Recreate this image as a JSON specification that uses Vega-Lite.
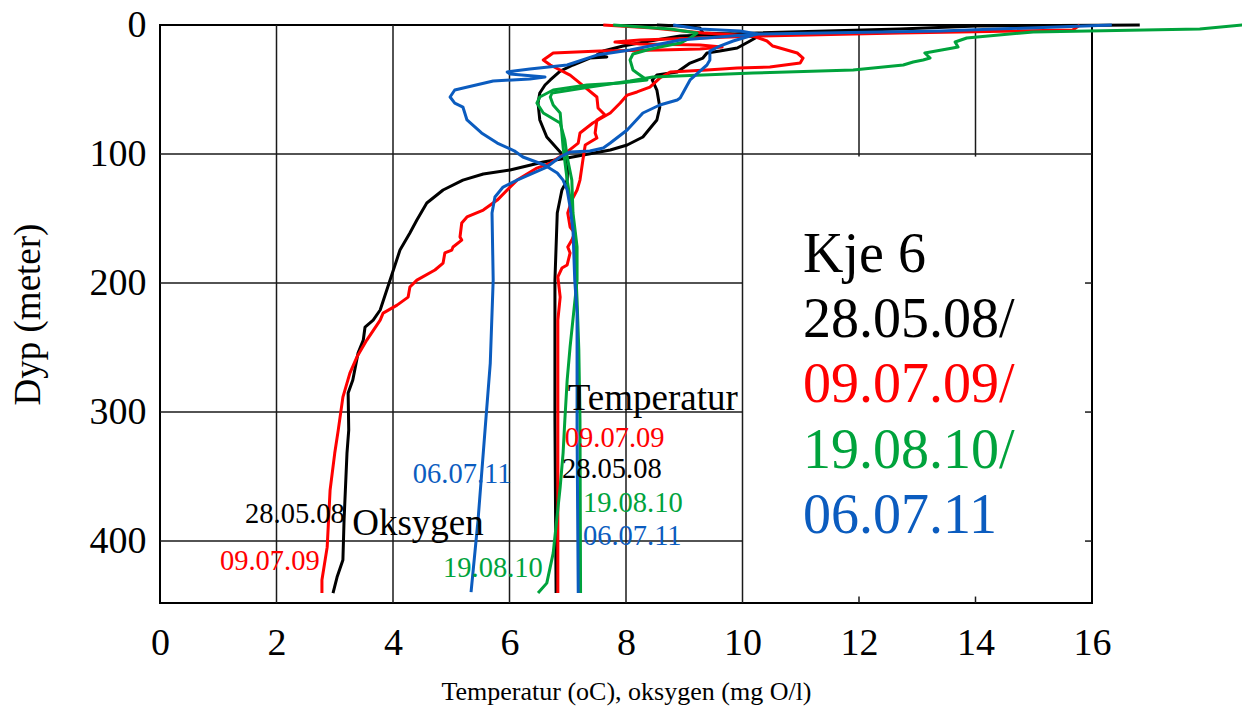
{
  "$schema": "https://vega.github.io/schema/vega-lite/v6.json",
  "width": 932,
  "height": 578,
  "autosize": {"type": "none"},
  "padding": {"left": 160, "top": 25, "right": 150, "bottom": 106},
  "background": "white",
  "config": {
    "view": {"stroke": "#000", "strokeWidth": 2},
    "axis": {"domain": false, "ticks": false, "grid": false, "labelFlush": false, "labelFont": "Liberation Serif", "labelFontSize": 38, "labelColor": "#000", "titleFont": "Liberation Serif", "titleFontWeight": "normal", "titleColor": "#000"}
  },
  "datasets": {
    "grid": [
      {"x": 2, "x2": 2, "d": 0, "d2": 448},
      {"x": 4, "x2": 4, "d": 0, "d2": 448},
      {"x": 6, "x2": 6, "d": 0, "d2": 448},
      {"x": 8, "x2": 8, "d": 0, "d2": 448},
      {"x": 10, "x2": 10, "d": 0, "d2": 448},
      {"x": 12, "x2": 12, "d": 0, "d2": 102},
      {"x": 14, "x2": 14, "d": 0, "d2": 102},
      {"x": 12, "x2": 12, "d": 443, "d2": 448},
      {"x": 14, "x2": 14, "d": 443, "d2": 448},
      {"x": 0, "x2": 16, "d": 100, "d2": 100},
      {"x": 0, "x2": 10, "d": 200, "d2": 200},
      {"x": 0, "x2": 10, "d": 300, "d2": 300},
      {"x": 0, "x2": 10, "d": 400, "d2": 400},
      {"x": 15.88, "x2": 16, "d": 200, "d2": 200},
      {"x": 15.88, "x2": 16, "d": 300, "d2": 300},
      {"x": 15.88, "x2": 16, "d": 400, "d2": 400}
    ],
    "prof": [
      {"date": "28.05.08", "v": "O", "x": 8.53, "d": 0},
      {"date": "28.05.08", "v": "O", "x": 8.93, "d": 0.8},
      {"date": "28.05.08", "v": "O", "x": 9.27, "d": 2.3},
      {"date": "28.05.08", "v": "O", "x": 9.32, "d": 6.2},
      {"date": "28.05.08", "v": "O", "x": 9.79, "d": 7.0},
      {"date": "28.05.08", "v": "O", "x": 10.25, "d": 9.3},
      {"date": "28.05.08", "v": "O", "x": 10.13, "d": 12.4},
      {"date": "28.05.08", "v": "O", "x": 9.91, "d": 17.8},
      {"date": "28.05.08", "v": "O", "x": 9.61, "d": 20.2},
      {"date": "28.05.08", "v": "O", "x": 9.39, "d": 21.7},
      {"date": "28.05.08", "v": "O", "x": 9.32, "d": 25.6},
      {"date": "28.05.08", "v": "O", "x": 9.10, "d": 29.5},
      {"date": "28.05.08", "v": "O", "x": 8.88, "d": 36.4},
      {"date": "28.05.08", "v": "O", "x": 8.53, "d": 38.8},
      {"date": "28.05.08", "v": "O", "x": 8.45, "d": 42.6},
      {"date": "28.05.08", "v": "O", "x": 8.53, "d": 50.4},
      {"date": "28.05.08", "v": "O", "x": 8.58, "d": 63.6},
      {"date": "28.05.08", "v": "O", "x": 8.53, "d": 73.6},
      {"date": "28.05.08", "v": "O", "x": 8.29, "d": 86.8},
      {"date": "28.05.08", "v": "O", "x": 8.02, "d": 93.0},
      {"date": "28.05.08", "v": "O", "x": 7.73, "d": 96.9},
      {"date": "28.05.08", "v": "O", "x": 6.99, "d": 103.1},
      {"date": "28.05.08", "v": "O", "x": 6.58, "d": 106.2},
      {"date": "28.05.08", "v": "O", "x": 6.01, "d": 112.4},
      {"date": "28.05.08", "v": "O", "x": 5.55, "d": 115.5},
      {"date": "28.05.08", "v": "O", "x": 5.20, "d": 120.2},
      {"date": "28.05.08", "v": "O", "x": 4.86, "d": 127.9},
      {"date": "28.05.08", "v": "O", "x": 4.58, "d": 138.0},
      {"date": "28.05.08", "v": "O", "x": 4.41, "d": 151.2},
      {"date": "28.05.08", "v": "O", "x": 4.29, "d": 161.2},
      {"date": "28.05.08", "v": "O", "x": 4.12, "d": 174.4},
      {"date": "28.05.08", "v": "O", "x": 3.95, "d": 197.7},
      {"date": "28.05.08", "v": "O", "x": 3.78, "d": 220.9},
      {"date": "28.05.08", "v": "O", "x": 3.66, "d": 228.7},
      {"date": "28.05.08", "v": "O", "x": 3.52, "d": 234.1},
      {"date": "28.05.08", "v": "O", "x": 3.49, "d": 244.2},
      {"date": "28.05.08", "v": "O", "x": 3.40, "d": 254.3},
      {"date": "28.05.08", "v": "O", "x": 3.31, "d": 275.2},
      {"date": "28.05.08", "v": "O", "x": 3.23, "d": 285.3},
      {"date": "28.05.08", "v": "O", "x": 3.24, "d": 314.0},
      {"date": "28.05.08", "v": "O", "x": 3.21, "d": 331.8},
      {"date": "28.05.08", "v": "O", "x": 3.16, "d": 383.7},
      {"date": "28.05.08", "v": "O", "x": 3.14, "d": 414.7},
      {"date": "28.05.08", "v": "O", "x": 3.04, "d": 427.9},
      {"date": "28.05.08", "v": "O", "x": 2.97, "d": 440.3},

      {"date": "28.05.08", "v": "T", "x": 16.82, "d": 0},
      {"date": "28.05.08", "v": "T", "x": 14.03, "d": 0.8},
      {"date": "28.05.08", "v": "T", "x": 12.70, "d": 3.1},
      {"date": "28.05.08", "v": "T", "x": 10.25, "d": 6.2},
      {"date": "28.05.08", "v": "T", "x": 8.93, "d": 8.5},
      {"date": "28.05.08", "v": "T", "x": 8.41, "d": 12.4},
      {"date": "28.05.08", "v": "T", "x": 7.95, "d": 16.3},
      {"date": "28.05.08", "v": "T", "x": 7.61, "d": 20.2},
      {"date": "28.05.08", "v": "T", "x": 7.50, "d": 23.3},
      {"date": "28.05.08", "v": "T", "x": 7.67, "d": 24.8},
      {"date": "28.05.08", "v": "T", "x": 7.38, "d": 25.6},
      {"date": "28.05.08", "v": "T", "x": 7.09, "d": 31.0},
      {"date": "28.05.08", "v": "T", "x": 6.87, "d": 35.7},
      {"date": "28.05.08", "v": "T", "x": 6.70, "d": 42.6},
      {"date": "28.05.08", "v": "T", "x": 6.61, "d": 46.5},
      {"date": "28.05.08", "v": "T", "x": 6.52, "d": 52.7},
      {"date": "28.05.08", "v": "T", "x": 6.49, "d": 60.5},
      {"date": "28.05.08", "v": "T", "x": 6.52, "d": 73.6},
      {"date": "28.05.08", "v": "T", "x": 6.64, "d": 86.8},
      {"date": "28.05.08", "v": "T", "x": 6.87, "d": 98.4},
      {"date": "28.05.08", "v": "T", "x": 7.00, "d": 107.0},
      {"date": "28.05.08", "v": "T", "x": 6.99, "d": 120.2},
      {"date": "28.05.08", "v": "T", "x": 6.90, "d": 127.9},
      {"date": "28.05.08", "v": "T", "x": 6.82, "d": 145.7},
      {"date": "28.05.08", "v": "T", "x": 6.78, "d": 197.7},
      {"date": "28.05.08", "v": "T", "x": 6.78, "d": 306.2},
      {"date": "28.05.08", "v": "T", "x": 6.80, "d": 440.3},

      {"date": "09.07.09", "v": "O", "x": 7.61, "d": 0},
      {"date": "09.07.09", "v": "O", "x": 8.46, "d": 2.3},
      {"date": "09.07.09", "v": "O", "x": 9.32, "d": 6.2},
      {"date": "09.07.09", "v": "O", "x": 10.18, "d": 8.5},
      {"date": "09.07.09", "v": "O", "x": 10.42, "d": 12.4},
      {"date": "09.07.09", "v": "O", "x": 10.52, "d": 16.3},
      {"date": "09.07.09", "v": "O", "x": 10.94, "d": 21.7},
      {"date": "09.07.09", "v": "O", "x": 11.04, "d": 25.6},
      {"date": "09.07.09", "v": "O", "x": 10.99, "d": 29.5},
      {"date": "09.07.09", "v": "O", "x": 10.47, "d": 32.6},
      {"date": "09.07.09", "v": "O", "x": 9.91, "d": 33.3},
      {"date": "09.07.09", "v": "O", "x": 9.39, "d": 34.9},
      {"date": "09.07.09", "v": "O", "x": 8.76, "d": 36.4},
      {"date": "09.07.09", "v": "O", "x": 8.58, "d": 41.1},
      {"date": "09.07.09", "v": "O", "x": 8.41, "d": 48.1},
      {"date": "09.07.09", "v": "O", "x": 8.19, "d": 51.9},
      {"date": "09.07.09", "v": "O", "x": 8.02, "d": 54.3},
      {"date": "09.07.09", "v": "O", "x": 7.90, "d": 60.5},
      {"date": "09.07.09", "v": "O", "x": 7.73, "d": 68.2},
      {"date": "09.07.09", "v": "O", "x": 7.61, "d": 71.3},
      {"date": "09.07.09", "v": "O", "x": 7.43, "d": 76.0},
      {"date": "09.07.09", "v": "O", "x": 7.21, "d": 83.7},
      {"date": "09.07.09", "v": "O", "x": 7.18, "d": 91.5},
      {"date": "09.07.09", "v": "O", "x": 6.99, "d": 98.4},
      {"date": "09.07.09", "v": "O", "x": 6.70, "d": 107.0},
      {"date": "09.07.09", "v": "O", "x": 6.47, "d": 110.9},
      {"date": "09.07.09", "v": "O", "x": 6.13, "d": 120.2},
      {"date": "09.07.09", "v": "O", "x": 5.79, "d": 135.7},
      {"date": "09.07.09", "v": "O", "x": 5.55, "d": 143.4},
      {"date": "09.07.09", "v": "O", "x": 5.27, "d": 148.8},
      {"date": "09.07.09", "v": "O", "x": 5.18, "d": 153.5},
      {"date": "09.07.09", "v": "O", "x": 5.15, "d": 164.3},
      {"date": "09.07.09", "v": "O", "x": 5.18, "d": 166.7},
      {"date": "09.07.09", "v": "O", "x": 5.03, "d": 172.1},
      {"date": "09.07.09", "v": "O", "x": 5.01, "d": 174.4},
      {"date": "09.07.09", "v": "O", "x": 4.89, "d": 176.7},
      {"date": "09.07.09", "v": "O", "x": 4.86, "d": 184.5},
      {"date": "09.07.09", "v": "O", "x": 4.72, "d": 189.9},
      {"date": "09.07.09", "v": "O", "x": 4.41, "d": 197.7},
      {"date": "09.07.09", "v": "O", "x": 4.29, "d": 203.1},
      {"date": "09.07.09", "v": "O", "x": 4.26, "d": 210.9},
      {"date": "09.07.09", "v": "O", "x": 4.07, "d": 217.1},
      {"date": "09.07.09", "v": "O", "x": 3.83, "d": 223.3},
      {"date": "09.07.09", "v": "O", "x": 3.78, "d": 228.7},
      {"date": "09.07.09", "v": "O", "x": 3.55, "d": 244.2},
      {"date": "09.07.09", "v": "O", "x": 3.38, "d": 257.4},
      {"date": "09.07.09", "v": "O", "x": 3.26, "d": 269.8},
      {"date": "09.07.09", "v": "O", "x": 3.14, "d": 288.4},
      {"date": "09.07.09", "v": "O", "x": 3.06, "d": 314.0},
      {"date": "09.07.09", "v": "O", "x": 3.00, "d": 331.8},
      {"date": "09.07.09", "v": "O", "x": 2.92, "d": 360.5},
      {"date": "09.07.09", "v": "O", "x": 2.87, "d": 404.7},
      {"date": "09.07.09", "v": "O", "x": 2.78, "d": 430.2},
      {"date": "09.07.09", "v": "O", "x": 2.78, "d": 440.3},

      {"date": "09.07.09", "v": "T", "x": 15.79, "d": 0},
      {"date": "09.07.09", "v": "T", "x": 15.67, "d": 3.9},
      {"date": "09.07.09", "v": "T", "x": 12.70, "d": 6.2},
      {"date": "09.07.09", "v": "T", "x": 10.30, "d": 8.5},
      {"date": "09.07.09", "v": "T", "x": 9.27, "d": 10.1},
      {"date": "09.07.09", "v": "T", "x": 8.24, "d": 11.6},
      {"date": "09.07.09", "v": "T", "x": 7.81, "d": 13.2},
      {"date": "09.07.09", "v": "T", "x": 8.24, "d": 14.7},
      {"date": "09.07.09", "v": "T", "x": 9.27, "d": 15.5},
      {"date": "09.07.09", "v": "T", "x": 9.65, "d": 17.1},
      {"date": "09.07.09", "v": "T", "x": 9.27, "d": 18.6},
      {"date": "09.07.09", "v": "T", "x": 8.58, "d": 19.4},
      {"date": "09.07.09", "v": "T", "x": 7.55, "d": 20.2},
      {"date": "09.07.09", "v": "T", "x": 6.75, "d": 21.7},
      {"date": "09.07.09", "v": "T", "x": 6.58, "d": 27.1},
      {"date": "09.07.09", "v": "T", "x": 6.70, "d": 31.0},
      {"date": "09.07.09", "v": "T", "x": 7.04, "d": 38.8},
      {"date": "09.07.09", "v": "T", "x": 7.21, "d": 45.0},
      {"date": "09.07.09", "v": "T", "x": 7.50, "d": 55.8},
      {"date": "09.07.09", "v": "T", "x": 7.52, "d": 64.3},
      {"date": "09.07.09", "v": "T", "x": 7.64, "d": 69.8},
      {"date": "09.07.09", "v": "T", "x": 7.50, "d": 73.6},
      {"date": "09.07.09", "v": "T", "x": 7.47, "d": 83.7},
      {"date": "09.07.09", "v": "T", "x": 7.50, "d": 87.6},
      {"date": "09.07.09", "v": "T", "x": 7.30, "d": 93.0},
      {"date": "09.07.09", "v": "T", "x": 7.26, "d": 104.7},
      {"date": "09.07.09", "v": "T", "x": 7.21, "d": 120.2},
      {"date": "09.07.09", "v": "T", "x": 7.16, "d": 127.9},
      {"date": "09.07.09", "v": "T", "x": 7.07, "d": 135.7},
      {"date": "09.07.09", "v": "T", "x": 7.00, "d": 145.7},
      {"date": "09.07.09", "v": "T", "x": 7.04, "d": 156.6},
      {"date": "09.07.09", "v": "T", "x": 7.12, "d": 161.2},
      {"date": "09.07.09", "v": "T", "x": 7.07, "d": 166.7},
      {"date": "09.07.09", "v": "T", "x": 7.00, "d": 172.1},
      {"date": "09.07.09", "v": "T", "x": 7.04, "d": 176.7},
      {"date": "09.07.09", "v": "T", "x": 6.99, "d": 186.0},
      {"date": "09.07.09", "v": "T", "x": 6.90, "d": 188.4},
      {"date": "09.07.09", "v": "T", "x": 6.83, "d": 195.3},
      {"date": "09.07.09", "v": "T", "x": 6.87, "d": 210.9},
      {"date": "09.07.09", "v": "T", "x": 6.83, "d": 228.7},
      {"date": "09.07.09", "v": "T", "x": 6.83, "d": 306.2},
      {"date": "09.07.09", "v": "T", "x": 6.83, "d": 440.3},

      {"date": "19.08.10", "v": "O", "x": 7.78, "d": 0},
      {"date": "19.08.10", "v": "O", "x": 8.76, "d": 3.1},
      {"date": "19.08.10", "v": "O", "x": 9.22, "d": 6.2},
      {"date": "19.08.10", "v": "O", "x": 9.10, "d": 10.1},
      {"date": "19.08.10", "v": "O", "x": 8.93, "d": 14.0},
      {"date": "19.08.10", "v": "O", "x": 8.58, "d": 17.1},
      {"date": "19.08.10", "v": "O", "x": 8.36, "d": 19.4},
      {"date": "19.08.10", "v": "O", "x": 8.12, "d": 22.5},
      {"date": "19.08.10", "v": "O", "x": 8.07, "d": 27.1},
      {"date": "19.08.10", "v": "O", "x": 8.12, "d": 34.9},
      {"date": "19.08.10", "v": "O", "x": 8.19, "d": 37.2},
      {"date": "19.08.10", "v": "O", "x": 8.36, "d": 42.6},
      {"date": "19.08.10", "v": "O", "x": 7.90, "d": 45.0},
      {"date": "19.08.10", "v": "O", "x": 7.33, "d": 46.5},
      {"date": "19.08.10", "v": "O", "x": 6.75, "d": 50.4},
      {"date": "19.08.10", "v": "O", "x": 6.52, "d": 55.8},
      {"date": "19.08.10", "v": "O", "x": 6.47, "d": 60.5},
      {"date": "19.08.10", "v": "O", "x": 6.58, "d": 68.2},
      {"date": "19.08.10", "v": "O", "x": 6.87, "d": 76.0},
      {"date": "19.08.10", "v": "O", "x": 6.95, "d": 89.1},
      {"date": "19.08.10", "v": "O", "x": 6.99, "d": 102.3},
      {"date": "19.08.10", "v": "O", "x": 7.07, "d": 120.2},
      {"date": "19.08.10", "v": "O", "x": 7.09, "d": 145.7},
      {"date": "19.08.10", "v": "O", "x": 7.16, "d": 172.1},
      {"date": "19.08.10", "v": "O", "x": 7.16, "d": 197.7},
      {"date": "19.08.10", "v": "O", "x": 7.04, "d": 249.6},
      {"date": "19.08.10", "v": "O", "x": 6.99, "d": 275.2},
      {"date": "19.08.10", "v": "O", "x": 6.95, "d": 306.2},
      {"date": "19.08.10", "v": "O", "x": 6.92, "d": 331.8},
      {"date": "19.08.10", "v": "O", "x": 6.87, "d": 358.1},
      {"date": "19.08.10", "v": "O", "x": 6.75, "d": 409.3},
      {"date": "19.08.10", "v": "O", "x": 6.64, "d": 432.6},
      {"date": "19.08.10", "v": "O", "x": 6.49, "d": 440.3},

      {"date": "19.08.10", "v": "T", "x": 18.58, "d": 0},
      {"date": "19.08.10", "v": "T", "x": 17.85, "d": 3.1},
      {"date": "19.08.10", "v": "T", "x": 14.99, "d": 5.4},
      {"date": "19.08.10", "v": "T", "x": 14.03, "d": 9.3},
      {"date": "19.08.10", "v": "T", "x": 13.85, "d": 10.1},
      {"date": "19.08.10", "v": "T", "x": 13.65, "d": 13.2},
      {"date": "19.08.10", "v": "T", "x": 13.70, "d": 17.1},
      {"date": "19.08.10", "v": "T", "x": 13.61, "d": 17.8},
      {"date": "19.08.10", "v": "T", "x": 13.13, "d": 21.7},
      {"date": "19.08.10", "v": "T", "x": 13.22, "d": 25.6},
      {"date": "19.08.10", "v": "T", "x": 13.10, "d": 27.1},
      {"date": "19.08.10", "v": "T", "x": 12.93, "d": 28.7},
      {"date": "19.08.10", "v": "T", "x": 12.76, "d": 31.0},
      {"date": "19.08.10", "v": "T", "x": 11.90, "d": 34.9},
      {"date": "19.08.10", "v": "T", "x": 10.18, "d": 37.2},
      {"date": "19.08.10", "v": "T", "x": 8.46, "d": 40.3},
      {"date": "19.08.10", "v": "T", "x": 8.07, "d": 43.4},
      {"date": "19.08.10", "v": "T", "x": 7.38, "d": 48.1},
      {"date": "19.08.10", "v": "T", "x": 6.73, "d": 52.7},
      {"date": "19.08.10", "v": "T", "x": 6.70, "d": 55.8},
      {"date": "19.08.10", "v": "T", "x": 6.75, "d": 62.0},
      {"date": "19.08.10", "v": "T", "x": 6.87, "d": 68.2},
      {"date": "19.08.10", "v": "T", "x": 6.92, "d": 94.6},
      {"date": "19.08.10", "v": "T", "x": 6.99, "d": 120.2},
      {"date": "19.08.10", "v": "T", "x": 7.07, "d": 143.4},
      {"date": "19.08.10", "v": "T", "x": 7.12, "d": 174.4},
      {"date": "19.08.10", "v": "T", "x": 7.16, "d": 213.2},
      {"date": "19.08.10", "v": "T", "x": 7.19, "d": 251.9},
      {"date": "19.08.10", "v": "T", "x": 7.21, "d": 306.2},
      {"date": "19.08.10", "v": "T", "x": 7.22, "d": 440.3},

      {"date": "06.07.11", "v": "O", "x": 8.81, "d": 0},
      {"date": "06.07.11", "v": "O", "x": 9.27, "d": 3.1},
      {"date": "06.07.11", "v": "O", "x": 9.96, "d": 4.7},
      {"date": "06.07.11", "v": "O", "x": 10.25, "d": 7.0},
      {"date": "06.07.11", "v": "O", "x": 10.13, "d": 8.5},
      {"date": "06.07.11", "v": "O", "x": 9.84, "d": 12.4},
      {"date": "06.07.11", "v": "O", "x": 9.61, "d": 16.3},
      {"date": "06.07.11", "v": "O", "x": 9.44, "d": 20.2},
      {"date": "06.07.11", "v": "O", "x": 9.44, "d": 27.1},
      {"date": "06.07.11", "v": "O", "x": 9.39, "d": 31.0},
      {"date": "06.07.11", "v": "O", "x": 9.27, "d": 35.7},
      {"date": "06.07.11", "v": "O", "x": 9.10, "d": 42.6},
      {"date": "06.07.11", "v": "O", "x": 8.93, "d": 56.6},
      {"date": "06.07.11", "v": "O", "x": 8.88, "d": 58.1},
      {"date": "06.07.11", "v": "O", "x": 8.58, "d": 62.0},
      {"date": "06.07.11", "v": "O", "x": 8.29, "d": 68.2},
      {"date": "06.07.11", "v": "O", "x": 8.02, "d": 81.4},
      {"date": "06.07.11", "v": "O", "x": 7.73, "d": 91.5},
      {"date": "06.07.11", "v": "O", "x": 7.61, "d": 95.3},
      {"date": "06.07.11", "v": "O", "x": 7.38, "d": 97.7},
      {"date": "06.07.11", "v": "O", "x": 7.04, "d": 98.4},
      {"date": "06.07.11", "v": "O", "x": 6.87, "d": 102.3},
      {"date": "06.07.11", "v": "O", "x": 6.64, "d": 110.1},
      {"date": "06.07.11", "v": "O", "x": 6.13, "d": 120.2},
      {"date": "06.07.11", "v": "O", "x": 5.89, "d": 125.6},
      {"date": "06.07.11", "v": "O", "x": 5.75, "d": 133.3},
      {"date": "06.07.11", "v": "O", "x": 5.70, "d": 145.7},
      {"date": "06.07.11", "v": "O", "x": 5.72, "d": 197.7},
      {"date": "06.07.11", "v": "O", "x": 5.67, "d": 262.0},
      {"date": "06.07.11", "v": "O", "x": 5.58, "d": 314.0},
      {"date": "06.07.11", "v": "O", "x": 5.46, "d": 383.7},
      {"date": "06.07.11", "v": "O", "x": 5.34, "d": 439.5},

      {"date": "06.07.11", "v": "T", "x": 16.34, "d": 0},
      {"date": "06.07.11", "v": "T", "x": 13.39, "d": 4.7},
      {"date": "06.07.11", "v": "T", "x": 10.25, "d": 7.0},
      {"date": "06.07.11", "v": "T", "x": 8.93, "d": 11.6},
      {"date": "06.07.11", "v": "T", "x": 8.07, "d": 19.4},
      {"date": "06.07.11", "v": "T", "x": 7.50, "d": 23.3},
      {"date": "06.07.11", "v": "T", "x": 6.99, "d": 31.0},
      {"date": "06.07.11", "v": "T", "x": 6.35, "d": 34.1},
      {"date": "06.07.11", "v": "T", "x": 5.96, "d": 36.4},
      {"date": "06.07.11", "v": "T", "x": 6.01, "d": 38.0},
      {"date": "06.07.11", "v": "T", "x": 6.61, "d": 40.3},
      {"date": "06.07.11", "v": "T", "x": 6.35, "d": 41.9},
      {"date": "06.07.11", "v": "T", "x": 5.72, "d": 43.4},
      {"date": "06.07.11", "v": "T", "x": 5.06, "d": 50.4},
      {"date": "06.07.11", "v": "T", "x": 4.98, "d": 55.8},
      {"date": "06.07.11", "v": "T", "x": 5.06, "d": 60.5},
      {"date": "06.07.11", "v": "T", "x": 5.20, "d": 63.6},
      {"date": "06.07.11", "v": "T", "x": 5.27, "d": 73.6},
      {"date": "06.07.11", "v": "T", "x": 5.52, "d": 83.7},
      {"date": "06.07.11", "v": "T", "x": 5.79, "d": 91.5},
      {"date": "06.07.11", "v": "T", "x": 6.08, "d": 97.5},
      {"date": "06.07.11", "v": "T", "x": 6.23, "d": 102.3},
      {"date": "06.07.11", "v": "T", "x": 6.60, "d": 108.5},
      {"date": "06.07.11", "v": "T", "x": 6.82, "d": 114.7},
      {"date": "06.07.11", "v": "T", "x": 6.92, "d": 120.2},
      {"date": "06.07.11", "v": "T", "x": 6.99, "d": 127.9},
      {"date": "06.07.11", "v": "T", "x": 7.04, "d": 141.1},
      {"date": "06.07.11", "v": "T", "x": 7.09, "d": 158.9},
      {"date": "06.07.11", "v": "T", "x": 7.12, "d": 197.7},
      {"date": "06.07.11", "v": "T", "x": 7.16, "d": 223.3},
      {"date": "06.07.11", "v": "T", "x": 7.16, "d": 314.0},
      {"date": "06.07.11", "v": "T", "x": 7.18, "d": 440.3}
    ],
    "labels": [
      {"txt": "Kje 6", "date": "none", "g": "big", "x": 11.04, "d": 191.5},
      {"txt": "28.05.08/", "date": "28.05.08", "g": "big", "x": 11.04, "d": 241.9},
      {"txt": "09.07.09/", "date": "09.07.09", "g": "big", "x": 11.04, "d": 292.2},
      {"txt": "19.08.10/", "date": "19.08.10", "g": "big", "x": 11.04, "d": 343.4},
      {"txt": "06.07.11", "date": "06.07.11", "g": "big", "x": 11.04, "d": 393.8},
      {"txt": "Temperatur", "date": "none", "g": "mid", "x": 7.0, "d": 298.4},
      {"txt": "Oksygen", "date": "none", "g": "mid", "x": 3.3, "d": 395},
      {"txt": "09.07.09", "date": "09.07.09", "g": "small", "x": 6.95, "d": 327},
      {"txt": "28.05.08", "date": "28.05.08", "g": "small", "x": 6.9, "d": 351},
      {"txt": "19.08.10", "date": "19.08.10", "g": "small", "x": 7.26, "d": 377.5},
      {"txt": "06.07.11", "date": "06.07.11", "g": "small", "x": 7.26, "d": 403},
      {"txt": "06.07.11", "date": "06.07.11", "g": "small", "x": 4.34, "d": 355},
      {"txt": "28.05.08", "date": "28.05.08", "g": "small", "x": 1.46, "d": 386},
      {"txt": "09.07.09", "date": "09.07.09", "g": "small", "x": 1.03, "d": 422.5},
      {"txt": "19.08.10", "date": "19.08.10", "g": "small", "x": 4.86, "d": 428}
    ]
  },
  "encoding": {
    "x": {
      "field": "x", "type": "quantitative",
      "scale": {"domain": [0, 16], "nice": false, "zero": false},
      "axis": {"values": [0, 2, 4, 6, 8, 10, 12, 14, 16], "labelPadding": 21, "title": "Temperatur (oC), oksygen (mg O/l)", "titleFontSize": 26, "titlePadding": 16}
    },
    "y": {
      "field": "d", "type": "quantitative",
      "scale": {"domain": [0, 448], "reverse": true, "nice": false, "zero": false},
      "axis": {"values": [0, 100, 200, 300, 400], "labelPadding": 14, "title": "Dyp (meter)", "titleFontSize": 37, "titlePadding": 42}
    }
  },
  "layer": [
    {
      "data": {"name": "grid"},
      "mark": {"type": "rule", "color": "#1a1a1a", "strokeWidth": 1.5},
      "encoding": {"x2": {"field": "x2"}, "y2": {"field": "d2"}}
    },
    {
      "data": {"name": "prof"},
      "mark": {"type": "line", "strokeWidth": 3, "clip": false, "strokeJoin": "round"},
      "encoding": {
        "color": {"field": "date", "type": "nominal", "legend": null,
          "scale": {"domain": ["28.05.08", "09.07.09", "19.08.10", "06.07.11", "none"], "range": ["#000000", "#FF0000", "#00A33C", "#0B5CBF", "#000000"]}},
        "detail": {"field": "v"},
        "order": {"value": null}
      }
    },
    {
      "data": {"name": "labels"},
      "transform": [{"filter": "datum.g === 'big'"}],
      "mark": {"type": "text", "align": "left", "baseline": "alphabetic", "font": "Liberation Serif", "fontSize": 56},
      "encoding": {"text": {"field": "txt"}, "color": {"field": "date", "type": "nominal", "legend": null}}
    },
    {
      "data": {"name": "labels"},
      "transform": [{"filter": "datum.g === 'mid'"}],
      "mark": {"type": "text", "align": "left", "baseline": "alphabetic", "font": "Liberation Serif", "fontSize": 37},
      "encoding": {"text": {"field": "txt"}, "color": {"field": "date", "type": "nominal", "legend": null}}
    },
    {
      "data": {"name": "labels"},
      "transform": [{"filter": "datum.g === 'small'"}],
      "mark": {"type": "text", "align": "left", "baseline": "alphabetic", "font": "Liberation Serif", "fontSize": 28.5},
      "encoding": {"text": {"field": "txt"}, "color": {"field": "date", "type": "nominal", "legend": null}}
    }
  ]
}
